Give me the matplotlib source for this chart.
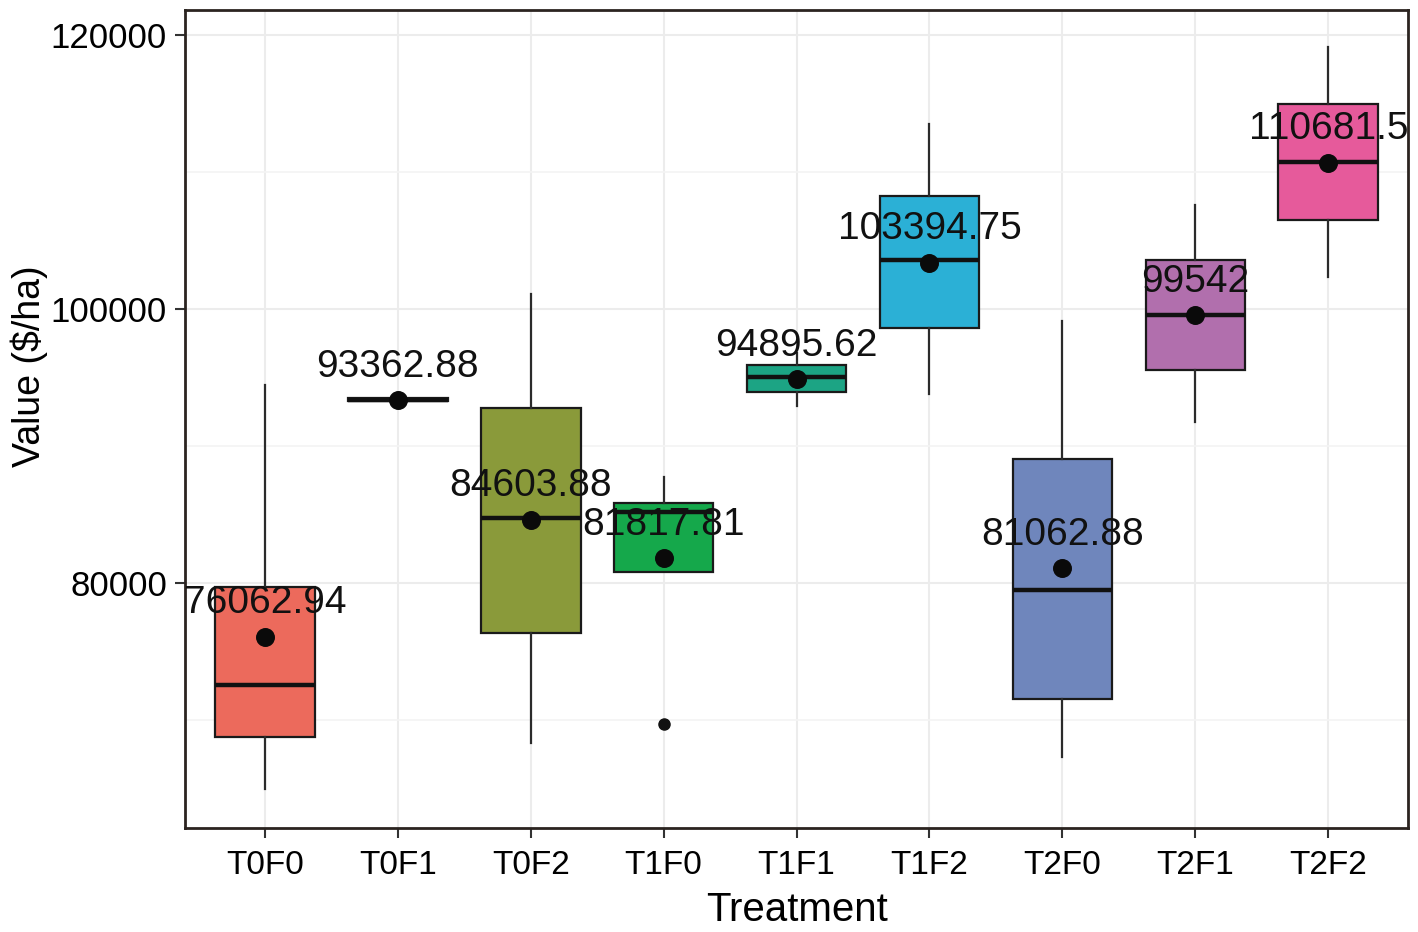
import numpy as np
import matplotlib
matplotlib.use('Agg')
import matplotlib.pyplot as plt

# box statistics
treatments = ['T0F0', 'T0F1', 'T0F2', 'T1F0', 'T1F1', 'T1F2', 'T2F0', 'T2F1', 'T2F2']
whisker_lo = [64964, 93250, 68321, 80804, 92920, 93800, 67300, 91751, 102336]
q1 = [68759, 93250, 76351, 80804, 93937, 98600, 71500, 95547, 106496]
medians = [72555, 93363, 84745, 85184, 95037, 103600, 79500, 99562, 110730]
q3 = [79708, 93480, 92775, 85841, 95913, 108250, 89050, 103577, 114963]
whisker_hi = [94453, 93480, 101095, 87738, 96789, 113550, 99124, 107591, 119124]
outliers = [[], [], [], [69708], [], [], [], [], []]
means = [76062.94, 93362.88, 84603.88, 81817.81, 94895.62, 103394.75,
         81062.88, 99542, 110681.5]
fills = ['#EC6A5C', '#C49A1C', '#8A9A3A', '#15A84B', '#1CA484', '#2BB0D6',
         '#6F86BC', '#B16FAD', '#E65A9B']

plt.rcParams['font.family'] = ['Liberation Sans', 'DejaVu Sans']

fig = plt.figure(figsize=(14.18, 9.32), dpi=100)
ax = fig.add_axes([0.1305, 0.112, 0.8625, 0.877])

stats = []
for i in range(len(treatments)):
    stats.append({'label': treatments[i], 'whislo': whisker_lo[i], 'q1': q1[i],
                  'med': medians[i], 'q3': q3[i], 'whishi': whisker_hi[i],
                  'fliers': outliers[i]})

pos = np.arange(len(treatments))
bp = ax.bxp(stats, positions=pos, widths=0.75, patch_artist=True,
            showcaps=False, zorder=3,
            boxprops=dict(edgecolor='#1a1a1a', linewidth=1.6),
            whiskerprops=dict(color='#2b2b2b', linewidth=1.6),
            medianprops=dict(color='#111111', linewidth=3.2),
            flierprops=dict(marker='o', markerfacecolor='#111111',
                            markeredgecolor='#111111', markersize=8))
for patch, c in zip(bp['boxes'], fills):
    patch.set_facecolor(c)

# mean points and their labels
ax.scatter(pos, means, s=160, color='#0a0a0a', zorder=5)
for x, m in zip(pos, means):
    ax.annotate(np.format_float_positional(m, trim='-'), (x, m),
                xytext=(0, 24), textcoords='offset points', ha='center',
                va='center', fontsize=28, color='#111111', zorder=6)

ax.set_xlim(-0.6, 8.6)
ax.set_ylim(62120, 121825)
ax.set_yticks([80000, 100000, 120000])
ax.set_yticks([70000, 90000, 110000], minor=True)
ax.set_xticks(pos)
ax.set_xticklabels(treatments, fontsize=24)
ax.tick_params(axis='y', labelsize=25, length=7, width=1.5, color='#333333', pad=6)
ax.tick_params(axis='y', which='minor', length=0)
ax.tick_params(axis='x', length=7, width=1.5, color='#333333', pad=9)
ax.grid(True, which='major', color='#ECECEC', linewidth=1.5, zorder=0)
ax.grid(True, which='minor', axis='y', color='#F4F4F4', linewidth=1.2, zorder=0)
ax.set_axisbelow(True)
for s in ax.spines.values():
    s.set_color('#2b2420')
    s.set_linewidth(2)

ax.set_xlabel('Treatment', fontsize=29, labelpad=7)
ax.set_ylabel('Value ($/ha)', fontsize=27)
ax.yaxis.set_label_coords(-0.112, 0.565)

fig.savefig('out.png', dpi=100, facecolor='white')
